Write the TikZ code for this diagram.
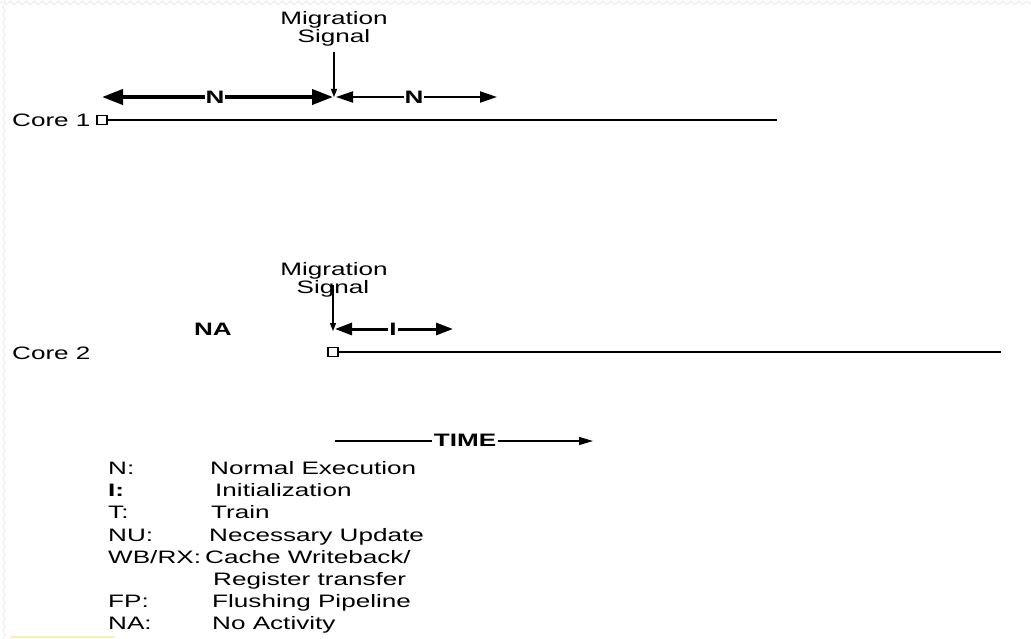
\documentclass[tikz,border=0pt]{standalone}
\usepackage{fontspec}
\setmainfont{Liberation Sans}[FakeStretch=1.45]
\usetikzlibrary{arrows.meta,decorations.pathmorphing}

\begin{document}
\begin{tikzpicture}[x=1pt,y=-1pt,
  txt/.style={font=\fontsize{18}{18}\selectfont, inner sep=0pt},
  btxt/.style={font=\fontsize{18}{18}\selectfont\bfseries, inner sep=0pt},
  lbl/.style={btxt, fill=white, inner xsep=1pt, inner ysep=1pt},
  startbox/.style={draw, line width=1.1pt, minimum width=10pt, minimum height=9pt, inner sep=0pt},
  timeline/.style={line width=1.3pt},
  bigspan/.style={line width=4pt, {Triangle[length=21pt,width=15pt]}-{Triangle[length=21pt,width=15pt]}},
  midspan/.style={line width=2pt, {Triangle[length=17pt,width=11pt]}-{Triangle[length=17pt,width=11pt]}},
  ispan/.style={line width=3pt, {Triangle[length=17pt,width=12pt]}-{Triangle[length=17pt,width=12pt]}},
  sigarrow/.style={line width=1.2pt, -{Triangle[length=8pt,width=6pt]}},
  timearrow/.style={line width=1.2pt, -{Triangle[length=14pt,width=8pt]}}
]
\useasboundingbox (0,0) rectangle (1031,639);

% faint wavy page edge and marker stroke
\draw[gray!12, line width=1.2pt, decorate, decoration={snake, segment length=8pt, amplitude=1.5pt}]
  (0,3) -- (1031,3);
\draw[gray!12, line width=1.2pt, decorate, decoration={snake, segment length=8pt, amplitude=1.5pt}]
  (4,0) -- (4,639);
\draw[color={rgb,255:red,250;green,240;blue,180}, line width=2pt] (10,637) -- (115,637);

% ---- Core 1 ----
\node[txt, anchor=base west] (core1) at (12,127) {Core 1};
\node[startbox] (s1) at (102,120) {};
\coordinate (e1) at (777,120);
\draw[timeline] (s1.east) -- (e1);

\node[txt, anchor=base] (mig1) at (334,25) {Migration};
\node[txt, anchor=base] (sig1) at (334,43) {Signal};
\coordinate (m1top) at (334,52);
\coordinate (m1) at (334,97);
\draw[sigarrow] (m1top) -- (m1);

\coordinate (n1a) at (102,97);
\coordinate (n1b) at (333,97);
\draw[bigspan] (n1a) -- (n1b);
\node[lbl] (n1) at (215,97) {N};

\coordinate (n2a) at (336,97);
\coordinate (n2b) at (497,97);
\draw[midspan] (n2a) -- (n2b);
\node[lbl] (n2) at (414,97) {N};

% ---- Core 2 ----
\node[txt, anchor=base west] (core2) at (12,359) {Core 2};
\node[startbox] (s2) at (333,352) {};
\coordinate (e2) at (1001,352);
\draw[timeline] (s2.east) -- (e2);

\node[txt, anchor=base] (mig2) at (334,276) {Migration};
\node[txt, anchor=base] (sig2) at (333,294) {Signal};
\coordinate (m2top) at (333,285);
\coordinate (m2) at (333,331);
\draw[sigarrow] (m2top) -- (m2);

\node[btxt, anchor=base] (na) at (213,335) {NA};

\coordinate (ia) at (335,329);
\coordinate (ib) at (453,329);
\draw[ispan] (ia) -- (ib);
\node[lbl] (ilbl) at (393,329) {I};

% ---- time axis ----
\coordinate (ta) at (335,441);
\coordinate (tb) at (593,441);
\draw[timearrow] (ta) -- (tb);
\node[lbl, inner xsep=2pt] (time) at (465,440) {TIME};

% ---- legend ----
\node[txt, anchor=base west] (k1) at (108,474) {N:};
\node[txt, anchor=base west] (v1) at (210,474) {Normal Execution};
\node[btxt, anchor=base west] (k2) at (108,496) {I:};
\node[txt, anchor=base west] (v2) at (215,496) {Initialization};
\node[txt, anchor=base west] (k3) at (108,518) {T:};
\node[txt, anchor=base west] (v3) at (211,518) {Train};
\node[txt, anchor=base west] (k4) at (108,541) {NU:};
\node[txt, anchor=base west] (v4) at (209,541) {Necessary Update};
\node[txt, anchor=base west] (k5) at (108,563) {WB/RX:};
\node[txt, anchor=base west] (v5) at (205,563) {Cache Writeback/};
\node[txt, anchor=base west] (v5b) at (213,585) {Register transfer};
\node[txt, anchor=base west] (k6) at (108,607) {FP:};
\node[txt, anchor=base west] (v6) at (212,607) {Flushing Pipeline};
\node[txt, anchor=base west] (k7) at (108,629) {NA:};
\node[txt, anchor=base west] (v7) at (212,629) {No Activity};
\end{tikzpicture}
\end{document}
